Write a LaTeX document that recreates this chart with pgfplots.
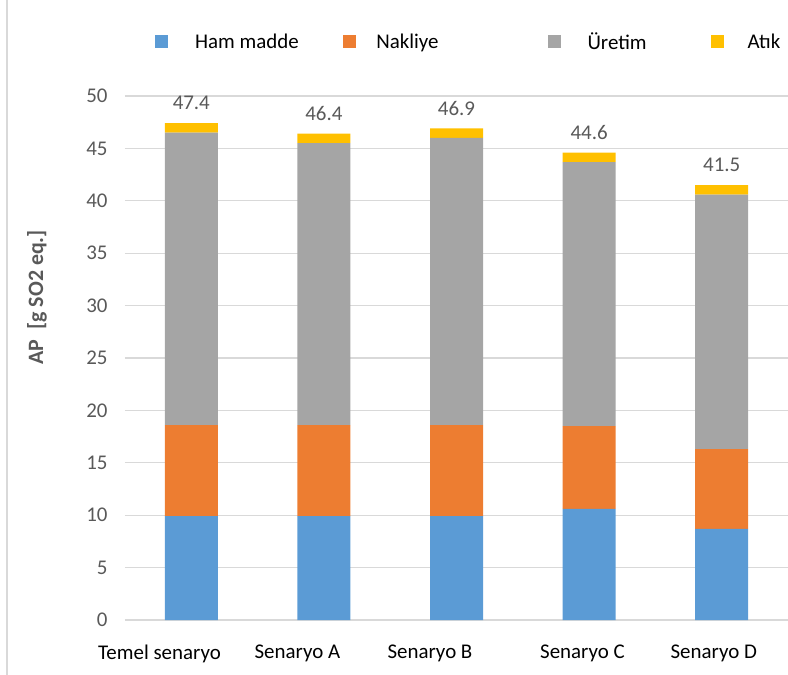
\documentclass[border=0pt]{standalone}
\usepackage{fontspec}
\setmainfont{Carlito}
\usepackage{pgfplots}
\usepackage{pgfplotstable}
\pgfplotsset{compat=1.18}
\definecolor{cblue}{HTML}{5B9BD5}
\definecolor{corange}{HTML}{ED7D31}
\definecolor{cgray}{HTML}{A5A5A5}
\definecolor{cyellow}{HTML}{FFC000}
\definecolor{gridc}{HTML}{D9D9D9}
\definecolor{tickc}{HTML}{595959}
\pgfplotstableread{
x ham nak ur at tot
0 9.9 8.7 27.9 0.9 47.4
1 9.9 8.7 26.9 0.9 46.4
2 9.9 8.7 27.4 0.9 46.9
3 10.6 7.9 25.2 0.9 44.6
4 8.7 7.6 24.3 0.9 41.5
}\datatable
\begin{document}
\begin{tikzpicture}
\begin{axis}[
  name=ax,
  scale only axis,
  width=663bp, height=524bp,
  ybar stacked,
  bar width=53bp,
  xmin=-0.5, xmax=4.5,
  ymin=0, ymax=50,
  ytick={0,5,...,50},
  xtick={-0.24,0.8,1.8,2.95,3.94},
  xticklabels={Temel senaryo, Senaryo A, Senaryo B, Senaryo C, Senaryo D},
  major tick length=0pt,
  axis line style={draw=none},
  ymajorgrids,
  grid style={gridc, line width=1.2bp},
  /pgf/number format/assume math mode=true,
  yticklabel style={font=\fontsize{21}{24}\selectfont, text=tickc, xshift=-14bp},
  xticklabel style={font=\fontsize{21}{24}\selectfont, text=black, yshift=-21bp},
  ylabel={\textbf{AP\ \ [g SO2 eq.]}},
  every axis y label/.style={at={(rel axis cs:0,0.616)}, xshift=-88bp, rotate=90, anchor=center, font=\fontsize{22}{26}\selectfont, text=tickc},
  legend columns=4,
  legend style={at={(rel axis cs:0,1)}, anchor=west, xshift=30bp, yshift=54bp,
    draw=none, fill=none, inner sep=0pt,
    font=\fontsize{21}{24}\selectfont, text=black,
    /tikz/column 1/.style={column sep=25bp},
    /tikz/column 2/.style={column sep=42bp},
    /tikz/column 3/.style={column sep=18.5bp},
    /tikz/column 4/.style={column sep=107bp},
    /tikz/column 5/.style={column sep=25bp},
    /tikz/column 6/.style={column sep=62bp},
    /tikz/column 7/.style={column sep=22bp},
  },
  legend image code/.code={\fill[#1] (0bp,-6.5bp) rectangle (13bp,6.5bp);},
]
\addplot[fill=cblue, draw=none] table[x=x, y=ham] {\datatable};
\addlegendentry{Ham madde}
\addplot[fill=corange, draw=none] table[x=x, y=nak] {\datatable};
\addlegendentry{Nakliye}
\addplot[fill=cgray, draw=none] table[x=x, y=ur] {\datatable};
\addlegendentry{Üretim}
\addplot[fill=cyellow, draw=none,
  point meta=explicit,
  nodes near coords={\pgfmathprintnumber[fixed,fixed zerofill,precision=1]{\pgfplotspointmeta}},
  every node near coord/.append style={anchor=center, yshift=25bp, text=tickc, font=\fontsize{21}{24}\selectfont}
] table[x=x, y=at, meta=tot] {\datatable};
\addlegendentry{Atık}
\end{axis}
\draw[gridc, line width=1.5bp] ([xshift=-118bp,yshift=-55bp]ax.south west) -- ([xshift=-118bp,yshift=96bp]ax.north west);
\pgfresetboundingbox
\useasboundingbox ([xshift=-125bp,yshift=-55bp]ax.south west) rectangle ([yshift=96bp]ax.north east);
\end{tikzpicture}
\end{document}
